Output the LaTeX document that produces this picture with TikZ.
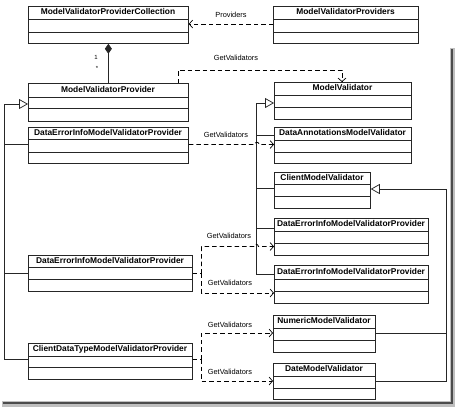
\documentclass[tikz,border=0pt]{standalone}
\usepackage{fontspec}
\setmainfont{Liberation Sans}
\usetikzlibrary{arrows.meta,calc}
\tikzset{
  box/.style={draw=black!85, line width=0.75pt, fill=white, inner sep=0pt, rectangle},
  title/.style={inner sep=0pt, font=\bfseries\fontsize{8.4}{10}\selectfont, text height=6.2pt, text depth=1.8pt},
  lbl/.style={inner sep=0pt, font=\fontsize{7.4}{9}\selectfont, text height=5.6pt, text depth=1.6pt},
  mult/.style={inner sep=0pt, font=\fontsize{6}{7}\selectfont},
  solidln/.style={draw=black!85, line width=0.75pt},
  gen/.style={solidln, -{Triangle[open, length=9pt, width=10pt, fill=white]}},
  comp/.style={solidln, -{Diamond[length=10pt, width=7pt]}},
  deps/.style={draw=black, line width=0.85pt, dash pattern=on 4.5pt off 3pt},
  dep/.style={deps, -{Straight Barb[length=3.5pt, width=8pt, line width=0.7pt]}},
}
\newcommand\umlclass[8]{%
  \node[box, minimum width={#4-#2}, minimum height={#7-#3}, anchor=north west] (#1) at (#2,#3) {};
  \draw[solidln] (#2,#5) -- (#4,#5) (#2,#6) -- (#4,#6);
  \node[title] (#1-t) at ({(#2+#4)/2},{(#3+#5)/2}) {#8};
}
\begin{document}
\begin{tikzpicture}[x=1pt, y=-1pt]
\useasboundingbox (0,0) rectangle (455,408);
% drop shadow of the frame
\fill[black!25] (450,48) rectangle (455,407);
\fill[black!25] (2,401) rectangle (455,407);
\fill[black!70] (450.5,49) rectangle (452.5,404);
\fill[black!70] (3,402) rectangle (452.5,404);

% classes
\umlclass{pc}{28}{6}{188}{19}{32}{43}{ModelValidatorProviderCollection}
\umlclass{mvps}{273}{6}{418}{19}{32}{43}{ModelValidatorProviders}
\umlclass{mvp}{28}{83}{188}{97}{108}{121}{ModelValidatorProvider}
\umlclass{dl1}{28}{127}{188}{139}{152}{163}{DataErrorInfoModelValidatorProvider}
\umlclass{dl2}{28}{255}{192}{267}{279}{291}{DataErrorInfoModelValidatorProvider}
\umlclass{cdp}{28}{343}{192}{356}{367}{379}{ClientDataTypeModelValidatorProvider}
\umlclass{mv}{274}{82}{411}{95}{107}{119}{ModelValidator}
\umlclass{dam}{274}{127}{411}{140}{152}{163}{DataAnnotationsModelValidator}
\umlclass{cmv}{274}{172}{370}{184}{196}{208}{ClientModelValidator}
\umlclass{dr1}{274}{218}{428}{231}{243}{255}{DataErrorInfoModelValidatorProvider}
\umlclass{dr2}{274}{265}{428}{279}{291}{303}{DataErrorInfoModelValidatorProvider}
\umlclass{nmv}{273}{315}{375}{328}{340}{352}{NumericModelValidator}
\umlclass{dmv}{273}{363}{375}{376}{388}{399}{DateModelValidator}

% composition
\draw[comp] (mvp.north) -- (pc.south);
\node[mult] (m1) at (96,57) {1};
\node[mult] (m2) at (97,68) {*};

% Providers dependency
\draw[dep] ($(mvps.north west)+(0,18)$) -- ($(pc.north east)+(0,18)$);
\node[lbl] (l0) at (231,15) {Providers};

% generalisation, left tree
\coordinate (gl) at (4,104);
\draw[solidln] ($(cdp.north west)+(0,16)$) -| (gl);
\draw[gen] (gl) -- ($(mvp.north west)+(0,21)$);
\draw[solidln] ($(dl1.north west)+(0,17)$) -- ++(-24,0);
\draw[solidln] ($(dl2.north west)+(0,18)$) -- ++(-24,0);

% generalisation, ModelValidator tree
\coordinate (gr) at (256,103);
\draw[gen] (gr) -- ($(mv.north west)+(0,21)$);
\draw[solidln] (gr) |- ($(dr2.north west)+(0,9)$);
\draw[solidln] ($(dam.north west)+(0,8)$) -- ++(-18,0);
\draw[solidln] ($(cmv.north west)+(0,16)$) -- ++(-18,0);
\draw[solidln] ($(dr1.north west)+(0,10)$) -- ++(-18,0);

% generalisation, ClientModelValidator tree
\coordinate (gx) at (446,189);
\draw[gen] (gx) -- ($(cmv.north east)+(0,17)$);
\draw[solidln] (gx) |- ($(dmv.north east)+(0,18)$);
\draw[solidln] ($(nmv.north east)+(0,18)$) -- ++(71,0);

% GetValidators (top)
\draw[dep] ($(mvp.north west)+(150,0)$) -- ++(0,-13) -| ($(mv.north west)+(68,0)$);
\node[lbl] (l1) at (236,58) {GetValidators};

% GetValidators (second)
\draw[dep] ($(dl1.north east)+(0,17.5)$) -- ++(66,0) arc (180:0:2.2pt) -- ($(dam.north west)+(0,17.5)$);
\node[lbl] (l2) at (226,135) {GetValidators};

% GetValidators (third pair)
\coordinate (j3) at (201.5,273.5);
\draw[deps] ($(dl2.north east)+(0,18.5)$) -- (j3);
\draw[dep] (j3) -- ++(0,-27) -- ++(52.5,0) arc (180:0:2.2pt) -- ($(dr1.north west)+(0,28.5)$);
\draw[dep] (j3) |- ($(dr2.north west)+(0,28)$);
\node[lbl] (l3) at (229,236) {GetValidators};
\node[lbl] (l4) at (230,283) {GetValidators};

% GetValidators (fourth pair)
\coordinate (j4) at (201,359);
\draw[deps] ($(cdp.north east)+(0,16)$) -- (j4);
\draw[dep] (j4) |- ($(nmv.north west)+(0,18)$);
\draw[dep] (j4) |- ($(dmv.north west)+(0,18)$);
\node[lbl] (l5) at (230,325) {GetValidators};
\node[lbl] (l6) at (230,372) {GetValidators};
\end{tikzpicture}
\end{document}
